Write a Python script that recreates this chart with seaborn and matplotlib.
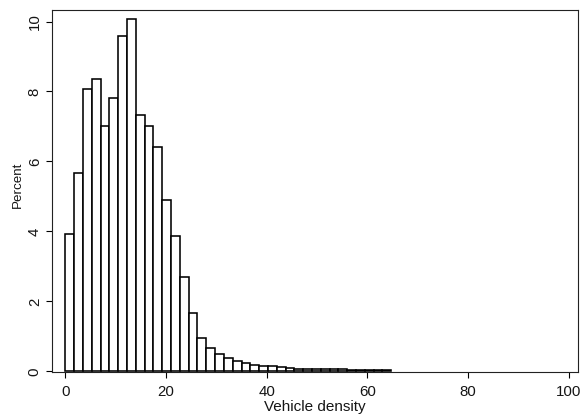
import numpy as np
import pandas as pd
import matplotlib
matplotlib.use("Agg")
import matplotlib.pyplot as plt
import seaborn as sns

# Histogram of vehicle density: bins of width 1.75 starting at 0, heights in percent
bin_width = 1.75
percent = [3.94, 5.67, 8.07, 8.35, 7.00, 7.81, 9.59, 10.07, 7.33, 7.00,
           6.42, 4.89, 3.87, 2.71, 1.66, 0.95, 0.66, 0.49, 0.37, 0.29,
           0.23, 0.19, 0.14, 0.14, 0.11, 0.09, 0.08, 0.08, 0.07, 0.07,
           0.07, 0.06, 0.04, 0.04, 0.03, 0.03, 0.03]
x_ticks = [0, 20, 40, 60, 80, 100]
y_ticks = [0, 2, 4, 6, 8, 10]

n = len(percent)
edges = np.arange(n + 1) * bin_width
centers = edges[:-1] + bin_width / 2
df = pd.DataFrame({"density": centers, "percent": percent})

sns.set_style("white")
plt.rcParams["font.family"] = ["Liberation Sans", "DejaVu Sans"]

fig = plt.figure(figsize=(5.85, 4.19), dpi=100)
ax = fig.add_axes([0.0884, 0.1129, 0.9875 - 0.0884, 0.9754 - 0.1129])

sns.histplot(data=df, x="density", weights="percent",
             binwidth=bin_width, binrange=(0, float(edges[-1])),
             stat="count", color="white", edgecolor="black",
             linewidth=1.15, alpha=1, ax=ax)

ax.set_xlim(-2.72, 101.8)
ax.set_ylim(-0.01, 10.32)
ax.set_xticks(x_ticks)
ax.set_yticks(y_ticks)
ax.set_yticklabels([str(v) for v in y_ticks], rotation=90, va="center")
ax.tick_params(axis="both", direction="out", length=4.1, width=0.8,
               color="black", labelsize=10.8, labelcolor="#151515",
               bottom=True, left=True)
ax.tick_params(axis="y", pad=3)
ax.tick_params(axis="x", pad=5.5)
for s in ax.spines.values():
    s.set_visible(True)
    s.set_color("#222222")
    s.set_linewidth(0.8)

ax.set_xlabel("Vehicle density", fontsize=11, color="#151515", va="top")
ax.xaxis.set_label_coords(0.5, -0.0775)
ax.set_ylabel("Percent", fontsize=9.6, color="#151515")
ax.yaxis.set_label_coords(-0.0538, 0.5174)

fig.savefig("out.png", dpi=100, facecolor="white")
